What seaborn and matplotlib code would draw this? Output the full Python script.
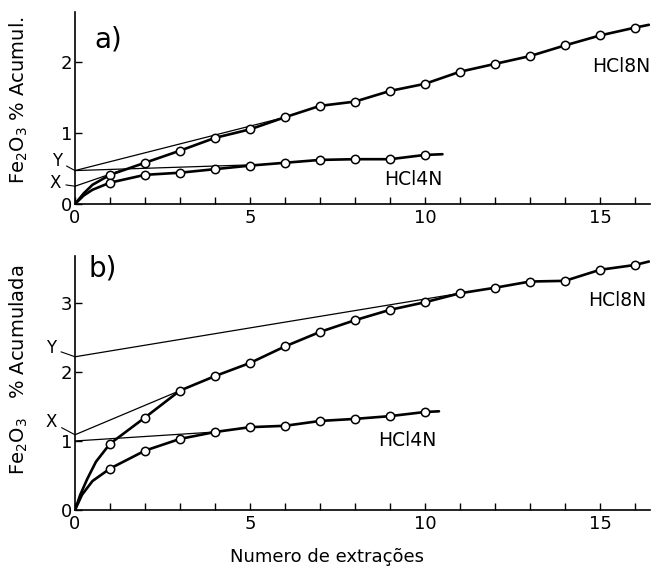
import numpy as np
import seaborn as sns
import matplotlib
matplotlib.use("Agg")
import matplotlib.pyplot as plt

# extraction numbers
extracoes_a8 = list(range(1, 17))
extracoes_a4 = list(range(1, 11))

# panel a) cumulative Fe2O3 (%)
a_hcl8 = [0.41, 0.58, 0.75, 0.93, 1.05, 1.22, 1.38, 1.44, 1.59, 1.69,
          1.86, 1.97, 2.08, 2.23, 2.37, 2.48]
a_hcl4 = [0.30, 0.41, 0.44, 0.49, 0.54, 0.58, 0.62, 0.63, 0.63, 0.69]

# panel b)
b_hcl8 = [0.96, 1.34, 1.73, 1.94, 2.13, 2.37, 2.58, 2.75, 2.90, 3.01,
          3.14, 3.22, 3.31, 3.32, 3.48, 3.55]
b_hcl4 = [0.60, 0.86, 1.03, 1.13, 1.20, 1.22, 1.29, 1.32, 1.36, 1.42]

# hand-drawn curves from the origin up to the first point, and line ends
a8_start_x = [0, 0.25, 0.5, 1]
a8_start_y = [0, 0.15, 0.27, 0.41]
a4_start_x = [0, 0.25, 0.5, 1]
a4_start_y = [0, 0.12, 0.20, 0.30]
b8_start_x = [0, 0.15, 0.35, 0.6, 1]
b8_start_y = [0, 0.22, 0.45, 0.70, 0.96]
b4_start_x = [0, 0.2, 0.5, 1]
b4_start_y = [0, 0.22, 0.42, 0.60]
a8_end = (16.4, 2.52)
a4_end = (10.5, 0.70)
b8_end = (16.4, 3.60)
b4_end = (10.4, 1.43)

# extrapolation lines (x0, y0, x1, y1) and intercept labels
a_lines = [(0, 0.47, 6.0, 1.22), (0, 0.47, 5.0, 0.55), (0, 0.25, 1.3, 0.47)]
b_lines = [(0, 2.22, 11.0, 3.14), (0, 1.09, 3.0, 1.73), (0, 1.00, 4.0, 1.13)]
a_marks = [("Y", 0.47, (-13, 7)), ("X", 0.25, (-14, 2))]
b_marks = [("Y", 2.22, (-17, 6)), ("X", 1.09, (-17, 9))]

sns.set_style("ticks")
plt.rcParams["font.family"] = ["DejaVu Sans"]
for key in ["text.color", "axes.labelcolor", "xtick.color", "ytick.color",
            "axes.edgecolor"]:
    plt.rcParams[key] = "black"

fig = plt.figure(figsize=(6.64, 5.76), dpi=100)
ax_a = fig.add_axes([75 / 664, (576 - 204) / 576, 575 / 664, 192 / 576])
ax_b = fig.add_axes([75 / 664, (576 - 510) / 576, 575 / 664, 254 / 576])


def draw_series(ax, sx, sy, xs, ys, end):
    tx = sx + xs[1:] + [end[0]]
    ty = sy + ys[1:] + [end[1]]
    sns.lineplot(x=tx, y=ty, ax=ax, color="black", lw=1.9,
                 estimator=None, sort=False)
    sns.scatterplot(x=xs, y=ys, ax=ax, marker="o", s=36,
                    facecolor="white", edgecolor="black", linewidth=1.1,
                    zorder=3)


def style_axes(ax, ymax, yticks):
    ax.set_xlim(0, 16.43)
    ax.set_ylim(0, ymax)
    sns.despine(ax=ax)
    for s in ["left", "bottom"]:
        ax.spines[s].set_linewidth(1.2)
    ax.set_xticks([0, 5, 10, 15])
    ax.set_xticks(range(17), minor=True)
    ax.set_yticks(yticks)
    ax.tick_params(which="both", direction="in", length=5, width=1,
                   labelsize=13, color="black")
    ax.tick_params(axis="y", pad=2)


for ax, data8, data4, s8, s4, e8, e4, lines, marks in [
    (ax_a, a_hcl8, a_hcl4, (a8_start_x, a8_start_y), (a4_start_x, a4_start_y),
     a8_end, a4_end, a_lines, a_marks),
    (ax_b, b_hcl8, b_hcl4, (b8_start_x, b8_start_y), (b4_start_x, b4_start_y),
     b8_end, b4_end, b_lines, b_marks),
]:
    draw_series(ax, s8[0], s8[1], extracoes_a8, data8, e8)
    draw_series(ax, s4[0], s4[1], extracoes_a4, data4, e4)
    for x0, y0, x1, y1 in lines:
        sns.lineplot(x=[x0, x1], y=[y0, y1], ax=ax, color="black", lw=0.9,
                     estimator=None, sort=False)
    for lab, yv, off in marks:
        ax.annotate(lab, xy=(0, yv), xytext=off, textcoords="offset points",
                    ha="center", va="center", fontsize=12,
                    arrowprops=dict(arrowstyle="-", lw=0.8, color="black",
                                    shrinkA=1, shrinkB=0),
                    annotation_clip=False)

style_axes(ax_a, 2.7, [0, 1, 2])
style_axes(ax_b, 3.68, [0, 1, 2, 3])

ax_a.text(0.95, 2.31, "a)", fontsize=20, ha="center", va="center")
ax_b.text(0.8, 3.5, "b)", fontsize=20, ha="center", va="center")
ax_a.text(15.6, 1.93, "HCl8N", fontsize=13.5, ha="center", va="center")
ax_a.text(9.66, 0.34, "HCl4N", fontsize=13.5, ha="center", va="center")
ax_b.text(15.5, 3.04, "HCl8N", fontsize=13.5, ha="center", va="center")
ax_b.text(9.5, 1.01, "HCl4N", fontsize=13.5, ha="center", va="center")

ax_a.set_ylabel(r"Fe$_2$O$_3$ % Acumul.", fontsize=14)
ax_a.yaxis.set_label_coords(-0.078, 0.54)
ax_b.set_ylabel(r"Fe$_2$O$_3$   % Acumulada", fontsize=14)
ax_b.yaxis.set_label_coords(-0.078, 0.55)
ax_b.set_xlabel("Numero de extrações", fontsize=13)
ax_b.xaxis.set_label_coords(0.438, -0.15)
ax_a.set_xlabel("")

fig.savefig("out.png", dpi=100)
